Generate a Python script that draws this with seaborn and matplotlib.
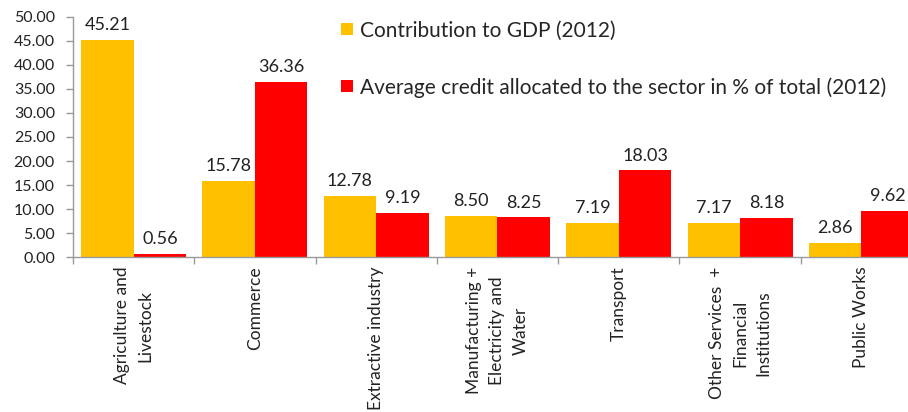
import matplotlib
matplotlib.use("Agg")
import matplotlib.pyplot as plt
import seaborn as sns
import pandas as pd
from matplotlib.ticker import FixedLocator, MultipleLocator

sectors = [
    "Agriculture and\nLivestock",
    "Commerce",
    "Extractive industry",
    "Manufacturing +\nElectricity and\nWater",
    "Transport",
    "Other Services  +\nFinancial\nInstitutions",
    "Public Works",
]
gdp_share = [45.21, 15.78, 12.78, 8.50, 7.19, 7.17, 2.86]
credit_share = [0.56, 36.36, 9.19, 8.25, 18.03, 8.18, 9.62]
series_names = [
    "Contribution to GDP (2012)",
    "Average credit allocated to the sector in % of total (2012)",
]
colors = ["#FFC000", "#FF0000"]

df = pd.DataFrame({
    "sector": sectors * 2,
    "value": gdp_share + credit_share,
    "series": [series_names[0]] * len(sectors) + [series_names[1]] * len(sectors),
})

sns.set_style("white")
plt.rcParams["font.family"] = ["Lato", "DejaVu Sans"]

fig = plt.figure(figsize=(9.08, 4.12), dpi=100)
ax = fig.add_axes([0.0804, 0.376, 0.935, 0.583])

sns.barplot(data=df, x="sector", y="value", hue="series", order=sectors,
            hue_order=series_names, palette=colors, width=0.866, gap=0,
            saturation=1, errorbar=None, ax=ax, edgecolor="none", linewidth=0)

for cont in ax.containers:
    ax.bar_label(cont, fmt="%.2f", padding=5, fontsize=13, color="#222222")

ax.set_ylim(0, 50)
ax.set_xlim(-0.5, len(sectors) - 0.5)
ax.yaxis.set_major_locator(MultipleLocator(5))
ax.set_yticklabels([f"{v:.2f}" for v in ax.get_yticks()])
ax.tick_params(axis="y", labelsize=11.5, length=5, width=1, color="#999999",
               left=True, pad=8, labelcolor="#222222")

# boundary ticks between categories, labels at centres
ax.xaxis.set_major_locator(FixedLocator([i - 0.5 for i in range(len(sectors) + 1)]))
ax.xaxis.set_major_formatter(plt.NullFormatter())
ax.set_xticks(list(range(len(sectors))), minor=True)
ax.set_xticklabels(sectors, minor=True, rotation=90, ha="center", va="top",
                   multialignment="center", fontsize=12.5, color="#222222",
                   linespacing=1.55)
ax.tick_params(axis="x", which="major", length=5, width=1, color="#999999", bottom=True)
ax.tick_params(axis="x", which="minor", length=0, pad=7)

ax.set_xlabel("")
ax.set_ylabel("")
for side in ["top", "right"]:
    ax.spines[side].set_visible(False)
for side in ["left", "bottom"]:
    ax.spines[side].set_color("#999999")
    ax.spines[side].set_linewidth(1)

ax.legend(loc="upper left", bbox_to_anchor=(0.316, 0.985), frameon=False,
          fontsize=15, handlelength=0.55, handleheight=0.55, handletextpad=0.35,
          labelspacing=1.75, borderaxespad=0, borderpad=0)

fig.savefig("out.png", dpi=100)
